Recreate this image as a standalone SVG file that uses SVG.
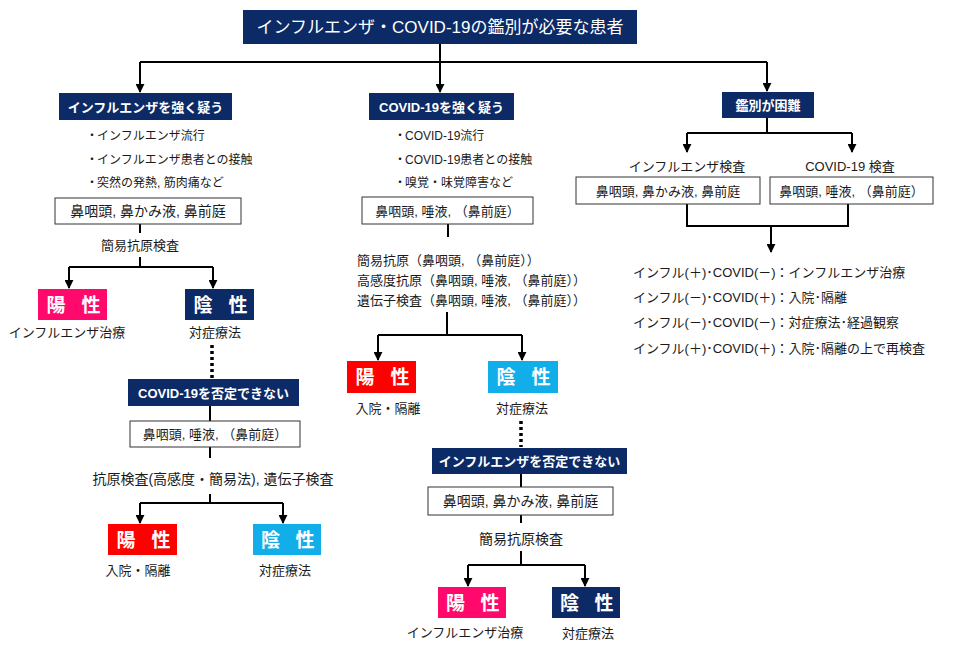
<svg xmlns="http://www.w3.org/2000/svg" width="976" height="649" viewBox="0 0 976 649">
<defs>
<marker id="ah" viewBox="0 0 10 10" refX="9" refY="5" markerWidth="9" markerHeight="9" markerUnits="userSpaceOnUse" orient="auto">
<path d="M0,0 L10,5 L0,10 z" fill="#000"/>
</marker>
<style>
text{font-family:"Liberation Sans","Noto Sans CJK JP",sans-serif;fill:#1a1a1a}
.c{text-anchor:middle}
.w{fill:#fff;font-weight:bold;font-size:13px;text-anchor:middle}
.big{fill:#fff;font-weight:bold;font-size:19px;text-anchor:middle}
.navy{fill:#0c2a66}
.pink{fill:#ff0a6c}
.red{fill:#ff0000}
.lb{fill:#12aeea}
.bx{fill:#fff;stroke:#333;stroke-width:1}
.s12{font-size:12px}
.s13{font-size:13px}
.s14{font-size:14px}
.ln{fill:none;stroke:#000;stroke-width:2}
.ar{fill:none;stroke:#000;stroke-width:2;marker-end:url(#ah)}
.dot{fill:none;stroke:#000;stroke-width:3.5;stroke-dasharray:3 3}
</style>
</defs>
<rect width="976" height="649" fill="#fff"/>

<g id="connectors">
<path class="ln" d="M440,44 V62 M140,62 H767"/>
<path class="ar" d="M140,62 V92"/>
<path class="ar" d="M440,62 V92"/>
<path class="ar" d="M767,62 V91"/>
<path class="ln" d="M140,224 V233 M140,257 V267 M69,267 H213"/>
<path class="ar" d="M69,267 V288"/>
<path class="ar" d="M213,267 V288"/>
<path class="dot" d="M212,345 V378"/>
<path class="ln" d="M210,406 V421 M210,447 V458 M210,494 V503 M140,503 H283"/>
<path class="ar" d="M140,503 V523"/>
<path class="ar" d="M283,503 V523"/>
<path class="ln" d="M448,224 V237 M447,312 V335 M378,335 H522"/>
<path class="ar" d="M378,335 V360"/>
<path class="ar" d="M522,335 V360"/>
<path class="dot" d="M521,421 V447"/>
<path class="ln" d="M521,474 V487 M521,515 V523 M521,551 V565 M468,565 H585"/>
<path class="ar" d="M468,565 V586"/>
<path class="ar" d="M585,565 V586"/>
<path class="ln" d="M767,118 V133 M687,133 H852"/>
<path class="ar" d="M687,133 V152"/>
<path class="ar" d="M852,133 V152"/>
<path class="ln" d="M687,204 V226 H848 V204"/>
<path class="ar" d="M771,226 V252"/>
</g>

<g id="title">
<rect class="navy" x="243" y="10" width="394" height="34"/>
<text x="440" y="33" style="fill:#fff;font-size:17px;text-anchor:middle">インフルエンザ・COVID-19の鑑別が必要な患者</text>
</g>

<g id="flu-suspect">
<rect class="navy" x="59" y="93" width="173" height="27"/>
<text class="w" x="145.5" y="111.5">インフルエンザを強く疑う</text>
</g>
<g id="flu-bullets">
<text class="s12" x="86" y="140">・</text><text class="s12" x="97" y="140">インフルエンザ流行</text>
<text class="s12" x="86" y="164">・</text><text class="s12" x="97" y="164">インフルエンザ患者との接触</text>
<text class="s12" x="86" y="187">・</text><text class="s12" x="97" y="187">突然の発熱, 筋肉痛など</text>
</g>
<g id="flu-sample">
<rect class="bx" x="55" y="198" width="186" height="26"/>
<text class="c s14" x="148" y="216">鼻咽頭, 鼻かみ液, 鼻前庭</text>
</g>
<g id="flu-test"><text class="c s13" x="140" y="250">簡易抗原検査</text></g>
<g id="flu-pos">
<rect class="pink" x="38" y="289" width="69" height="31"/>
<text class="big" y="312"><tspan x="56">陽</tspan><tspan x="91">性</tspan></text>
<text class="c s13" x="67" y="337">インフルエンザ治療</text>
</g>
<g id="flu-neg">
<rect class="navy" x="185" y="289" width="69" height="31"/>
<text class="big" y="312"><tspan x="203">陰</tspan><tspan x="238">性</tspan></text>
<text class="c s13" x="215" y="337">対症療法</text>
</g>
<g id="covid-not-excluded">
<rect class="navy" x="128" y="379" width="171" height="27"/>
<text class="w" x="213.5" y="397.5">COVID-19を否定できない</text>
</g>
<g id="covid-sample-2">
<rect class="bx" x="130" y="421" width="170" height="26"/>
<text class="c s13" x="215" y="439">鼻咽頭, 唾液, （鼻前庭）</text>
</g>
<g id="covid-test-2"><text class="c s14" x="213" y="484">抗原検査(高感度・簡易法), 遺伝子検査</text></g>
<g id="covid-pos-2">
<rect class="red" x="108" y="524" width="69" height="31"/>
<text class="big" y="547"><tspan x="126">陽</tspan><tspan x="161">性</tspan></text>
<text class="c s13" x="138" y="575">入院・隔離</text>
</g>
<g id="covid-neg-2">
<rect class="lb" x="253" y="524" width="68" height="31"/>
<text class="big" y="547"><tspan x="270.5">陰</tspan><tspan x="305">性</tspan></text>
<text class="c s13" x="285" y="575">対症療法</text>
</g>

<g id="covid-suspect">
<rect class="navy" x="369" y="93" width="145" height="27"/>
<text class="w" x="441.5" y="111.5">COVID-19を強く疑う</text>
</g>
<g id="covid-bullets">
<text class="s12" x="394" y="140">・</text><text class="s12" x="405" y="140">COVID-19流行</text>
<text class="s12" x="394" y="164">・</text><text class="s12" x="405" y="164">COVID-19患者との接触</text>
<text class="s12" x="394" y="187">・</text><text class="s12" x="405" y="187">嗅覚・味覚障害など</text>
</g>
<g id="covid-sample">
<rect class="bx" x="362" y="197" width="171" height="27"/>
<text class="c s13" x="447.5" y="215.5">鼻咽頭, 唾液, （鼻前庭）</text>
</g>
<g id="covid-tests">
<text class="s13" x="357" y="265">簡易抗原（鼻咽頭, （鼻前庭））</text>
<text class="s13" x="357" y="285">高感度抗原（鼻咽頭, 唾液, （鼻前庭））</text>
<text class="s13" x="357" y="305">遺伝子検査（鼻咽頭, 唾液, （鼻前庭））</text>
</g>
<g id="covid-pos">
<rect class="red" x="347" y="361" width="69" height="32"/>
<text class="big" y="384"><tspan x="365">陽</tspan><tspan x="400">性</tspan></text>
<text class="c s13" x="388" y="413">入院・隔離</text>
</g>
<g id="covid-neg">
<rect class="lb" x="488" y="361" width="70" height="32"/>
<text class="big" y="384"><tspan x="506">陰</tspan><tspan x="541">性</tspan></text>
<text class="c s13" x="522" y="413">対症療法</text>
</g>
<g id="flu-not-excluded">
<rect class="navy" x="432" y="448" width="195" height="26"/>
<text class="w" x="529.5" y="466">インフルエンザを否定できない</text>
</g>
<g id="flu-sample-2">
<rect class="bx" x="428" y="487" width="185" height="28"/>
<text class="c s14" x="520.5" y="506">鼻咽頭, 鼻かみ液, 鼻前庭</text>
</g>
<g id="flu-test-2"><text class="c s14" x="521" y="544">簡易抗原検査</text></g>
<g id="flu-pos-2">
<rect class="pink" x="438" y="587" width="68" height="31"/>
<text class="big" y="610"><tspan x="455.5">陽</tspan><tspan x="490">性</tspan></text>
<text class="c s13" x="465" y="637">インフルエンザ治療</text>
</g>
<g id="flu-neg-2">
<rect class="navy" x="552" y="587" width="68" height="31"/>
<text class="big" y="610"><tspan x="569.5">陰</tspan><tspan x="604">性</tspan></text>
<text class="c s13" x="588" y="638">対症療法</text>
</g>

<g id="difficult">
<rect class="navy" x="722" y="92" width="92" height="26"/>
<text class="w" x="768" y="110">鑑別が困難</text>
</g>
<g id="flu-exam">
<text class="c s13" x="687" y="171">インフルエンザ検査</text>
<rect class="bx" x="576" y="177" width="184" height="27"/>
<text class="c s13" x="668" y="196">鼻咽頭, 鼻かみ液, 鼻前庭</text>
</g>
<g id="covid-exam">
<text class="c s13" x="850" y="171">COVID-19 検査</text>
<rect class="bx" x="770" y="177" width="163" height="27"/>
<text class="c s13" x="851.5" y="196">鼻咽頭, 唾液, （鼻前庭）</text>
</g>
<g id="results">
<text class="s13" x="633" y="277">インフル(＋)･COVID(－)：インフルエンザ治療</text>
<text class="s13" x="633" y="302">インフル(－)･COVID(＋)：入院･隔離</text>
<text class="s13" x="633" y="327">インフル(－)･COVID(－)：対症療法･経過観察</text>
<text class="s13" x="633" y="353">インフル(＋)･COVID(＋)：入院･隔離の上で再検査</text>
</g>
</svg>
